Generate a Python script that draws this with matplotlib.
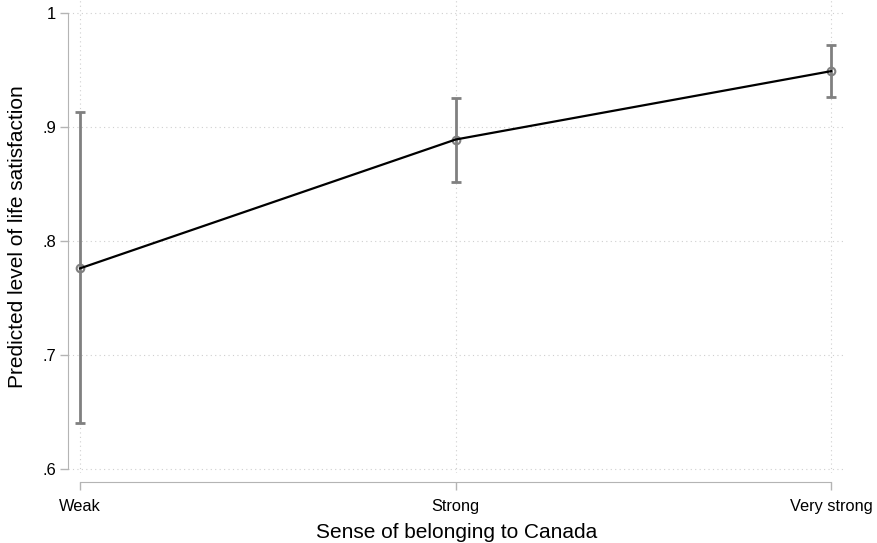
import numpy as np
import matplotlib.pyplot as plt

# Predicted life satisfaction by sense of belonging, with 95% CIs
categories = ['Weak', 'Strong', 'Very strong']
predicted = [0.776, 0.889, 0.949]
ci_low = [0.640, 0.852, 0.926]
ci_high = [0.913, 0.925, 0.972]
y_ticks = [0.6, 0.7, 0.8, 0.9, 1.0]
y_tick_labels = ['.6', '.7', '.8', '.9', '1']

plt.rcParams['font.family'] = ['Liberation Sans', 'DejaVu Sans']

W, H = 877, 543
fig = plt.figure(figsize=(W / 100, H / 100), dpi=100)
# plot region in pixels: x 68..845, y 0..473 (from top)
ax = fig.add_axes([68 / W, (H - 473) / H, (845 - 68) / W, 473 / H])

x = np.arange(len(categories))
pred = np.array(predicted)
lo = np.array(ci_low)
hi = np.array(ci_high)

err_col = '#808080'
ax.errorbar(x, pred, yerr=[pred - lo, hi - pred], fmt='none',
            ecolor=err_col, elinewidth=2.0, capsize=3.4, capthick=2.0, zorder=2)
ax.plot(x, pred, color='black', linewidth=1.6, zorder=4)
ax.plot(x, pred, linestyle='none', marker='o', markersize=5.5,
        markerfacecolor='none', markeredgecolor=err_col,
        markeredgewidth=1.5, zorder=3)

ax.set_xlim(-0.032, 2.037)
ax.set_ylim(0.5965, 1.0114)

ax.set_xticks(x)
ax.set_xticklabels(categories)
ax.set_yticks(y_ticks)
ax.set_yticklabels(y_tick_labels)

ax.grid(True, color='#cfcfcf', linestyle=(0, (1, 3)), linewidth=0.8)
ax.set_axisbelow(True)

for s in ['top', 'right']:
    ax.spines[s].set_visible(False)
spine_col = '#b4b4b4'
ax.spines['left'].set_color(spine_col)
ax.spines['left'].set_bounds(0.6, 1.0)
ax.spines['bottom'].set_color(spine_col)
ax.spines['bottom'].set_bounds(0, 2)
ax.spines['bottom'].set_position(('outward', 6.5))
ax.tick_params(axis='both', colors=spine_col, labelcolor='black',
               length=5.5, width=1)
ax.tick_params(axis='x', pad=7, labelsize=11.8)
ax.tick_params(axis='y', pad=3, labelsize=12)

ax.set_xlabel('Sense of belonging to Canada', fontsize=15, labelpad=6)
ax.set_ylabel('Predicted level of life satisfaction', fontsize=15, labelpad=11)

fig.savefig('out.png', dpi=100)
